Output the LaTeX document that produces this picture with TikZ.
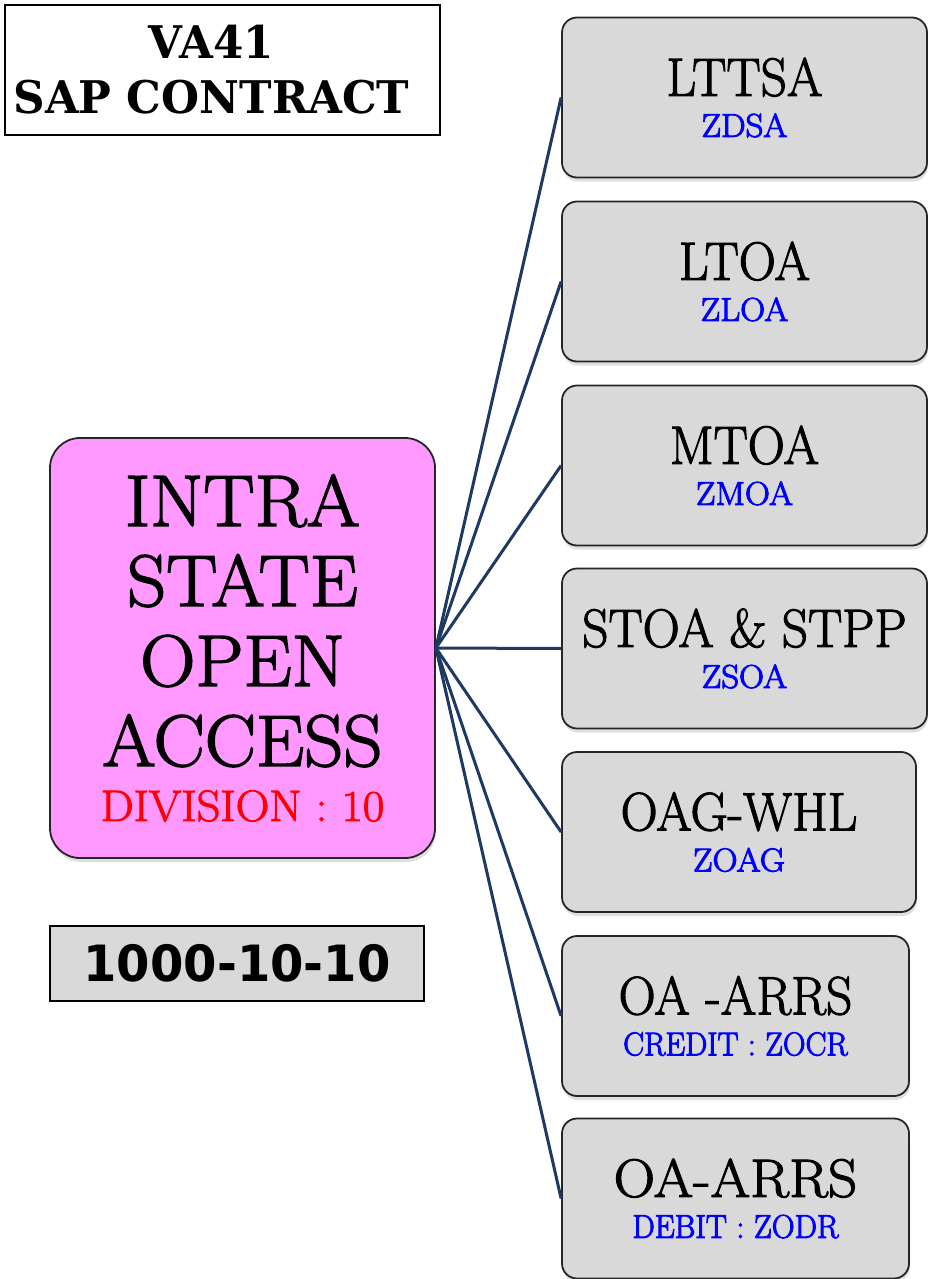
\documentclass[tikz,border=0pt]{standalone}
\usepackage{fontspec}
\usepackage{graphicx}
\usetikzlibrary{shadows}
\newfontfamily\titlefont{DejaVu Serif}
\newfontfamily\codefont{DejaVu Sans}
\newfontfamily\labelfont{Latin Modern Roman}[FakeBold=2]
\newfontfamily\sublabelfont{Latin Modern Roman}[FakeBold=3]
\definecolor{pinkfill}{RGB}{255,153,255}
\definecolor{greyfill}{RGB}{217,217,217}
\definecolor{navyline}{RGB}{31,56,100}
\definecolor{codeblue}{RGB}{0,0,255}
\definecolor{divred}{RGB}{255,0,0}
% horizontally scaled text for the labels
\newcommand{\narrow}[2][0.95]{\scalebox{#1}[1]{#2}}
\newcommand{\mainlbl}[2][0.95]{\narrow[#1]{#2}}
\newcommand{\sublbl}[2][0.98]{{\sublabelfont\fontsize{33}{41}\selectfont\color{codeblue}\narrow[#1]{#2}}}
\tikzset{
  titlebox/.style={draw=black, line width=1.5pt, fill=white, inner sep=0pt,
    minimum width=435pt, minimum height=130pt, align=center,
    font=\titlefont\bfseries\fontsize{45}{55}\selectfont},
  mainbox/.style={draw=black!85, line width=1.8pt, fill=pinkfill, rounded corners=30pt,
    inner sep=0pt, minimum width=385pt, minimum height=420pt, align=center,
    drop shadow={opacity=0.25, shadow xshift=1pt, shadow yshift=-4pt},
    font=\labelfont\fontsize{73}{80}\selectfont},
  typebox/.style={draw=black!85, line width=1.8pt, fill=greyfill, rounded corners=15pt,
    inner sep=0pt, minimum height=160pt, align=center,
    drop shadow={opacity=0.25, shadow xshift=1pt, shadow yshift=-4pt},
    font=\labelfont\fontsize{54}{41}\selectfont},
  codebox/.style={draw=black, line width=1.5pt, fill=greyfill, inner sep=0pt,
    minimum width=374pt, minimum height=75pt,
    font=\codefont\bfseries\fontsize{50}{55}\selectfont},
  link/.style={draw=navyline, line width=3pt}
}
\begin{document}
\begin{tikzpicture}[x=1pt, y=-1pt]
  \useasboundingbox (0,0) rectangle (928,1279);

  % header (text sits a little left of the box centre)
  \node[titlebox] (title) at (222.5,70)
    {\narrow[0.97]{VA41}\hspace*{22pt}\\\narrow[0.97]{SAP CONTRACT}\hspace*{22pt}};

  % central division box
  \node[mainbox] (intra) at (242.5,648)
    {\narrow[1.05]{INTRA}\\\narrow[1.05]{STATE}\\\narrow[1.05]{OPEN}\\\narrow[1.05]{ACCESS}\\[-25pt]
     {\fontsize{44}{55}\selectfont\color{divred}\narrow[1.06]{DIVISION : 10}}};

  % profit centre code
  \node[codebox] (code) at (237,963.5) {\narrow[0.96]{1000-10-10}};

  % contract types
  \node[typebox, minimum width=365pt] (t1) at (744.5,97.5)  {\mainlbl{LTTSA}\\\sublbl[1.05]{ZDSA}};
  \node[typebox, minimum width=365pt] (t2) at (744.5,281.5) {\mainlbl{LTOA}\\\sublbl[1.05]{ZLOA}};
  \node[typebox, minimum width=365pt] (t3) at (744.5,465.5) {\mainlbl{MTOA}\\\sublbl[1.05]{ZMOA}};
  \node[typebox, minimum width=365pt] (t4) at (744.5,648.5) {\mainlbl{STOA \& STPP}\\\sublbl[1.05]{ZSOA}};
  \node[typebox, minimum width=354pt] (t5) at (739,832)     {\mainlbl{OAG-WHL}\\\sublbl[1.05]{ZOAG}};
  \node[typebox, minimum width=347pt] (t6) at (735.5,1016)  {\mainlbl{OA -ARRS}\\\sublbl[0.95]{CREDIT : ZOCR}};
  \node[typebox, minimum width=347pt] (t7) at (735.5,1198.5){\mainlbl[1.06]{OA-ARRS}\\\sublbl[0.96]{DEBIT : ZODR}};

  % connectors
  \foreach \t in {t1,t2,t3,t4,t5,t6,t7}
    \draw[link] (intra.east) -- (\t.west);
\end{tikzpicture}
\end{document}
